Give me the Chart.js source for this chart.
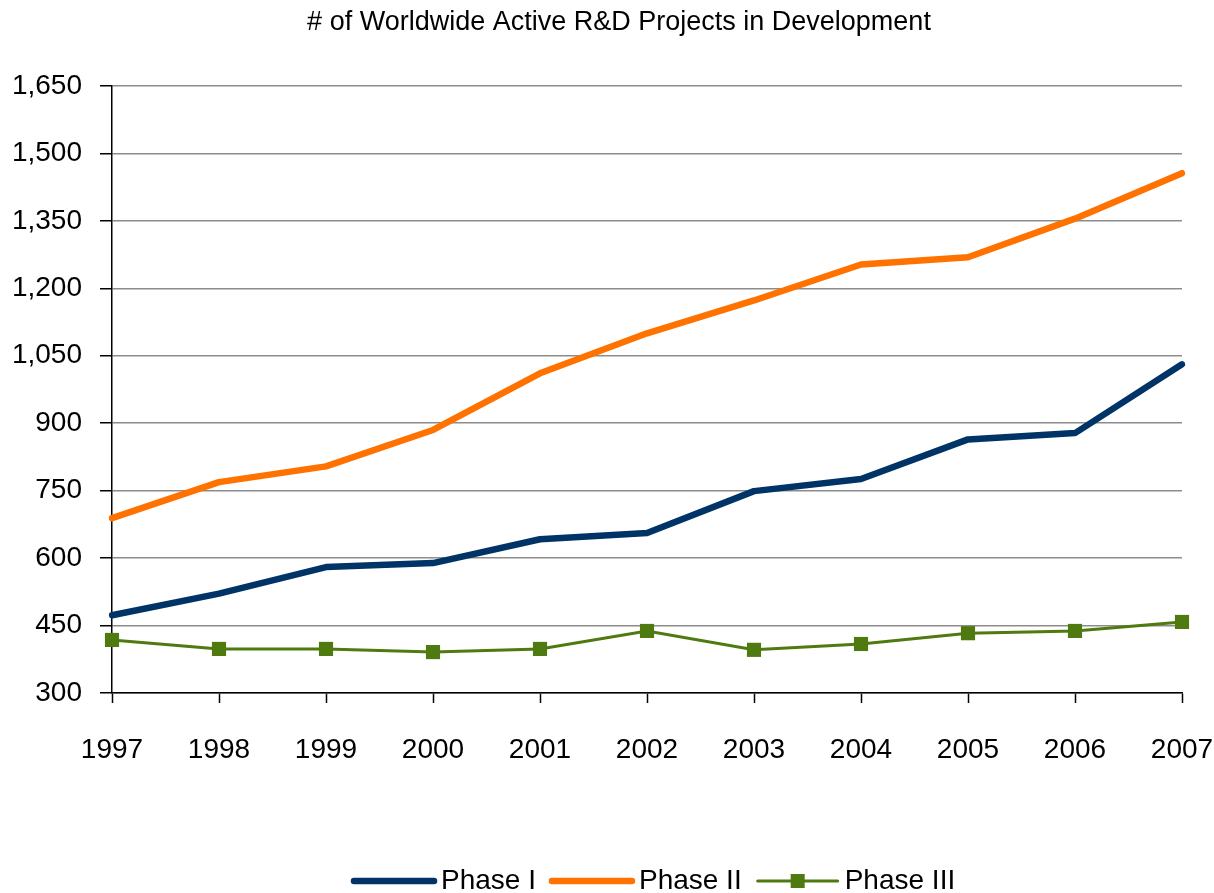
<!DOCTYPE html>
<html>
<head>
<meta charset="utf-8">
<script src="https://cdn.jsdelivr.net/npm/chart.js@4/dist/chart.umd.min.js"></script>
<style>
  html, body { margin: 0; padding: 0; background: #fff; }
  #wrap { width: 1214px; height: 893px; }
</style>
</head>
<body>
<div id="wrap"><canvas id="projects"></canvas></div>
<script>
const FONT = '"Liberation Sans", Arial, sans-serif';

const years = ["1997", "1998", "1999", "2000", "2001", "2002", "2003", "2004", "2005", "2006", "2007"];
const phase1 = [473, 521, 580, 589, 642, 656, 749, 776, 864, 878, 1031];
const phase2 = [689, 769, 804, 885, 1011, 1100, 1173, 1253, 1269, 1355, 1456];
const phase3 = [418, 398, 398, 391, 398, 438, 396, 409, 433, 438, 458];
const yTicks = [300, 450, 600, 750, 900, 1050, 1200, 1350, 1500, 1650];
const TITLE = "# of Worldwide Active R&D Projects in Development";

const COLORS = {
  navy: "rgb(0, 51, 102)",
  orange: "rgb(255, 114, 0)",
  green: "rgb(79, 122, 16)",
};

// title and bottom legend drawn by hand (legend lines carry the Phase III marker)
const decorations = {
  id: "decorations",
  afterDraw(chart) {
    const ctx = chart.ctx;
    ctx.save();
    ctx.fillStyle = "#000";
    ctx.font = "27px " + FONT;
    ctx.textAlign = "center";
    ctx.textBaseline = "middle";
    ctx.fillText(TITLE, 619, 23);

    const sets = chart.data.datasets;
    const lineLen = 80, gapText = 7, gapItem = 16;
    ctx.font = "28px " + FONT;
    ctx.textAlign = "left";
    let x = 354;
    const y = 881;
    sets.forEach((ds) => {
      ctx.strokeStyle = ds.borderColor;
      ctx.lineWidth = ds.borderWidth;
      ctx.lineCap = "round";
      ctx.beginPath();
      ctx.moveTo(x, y);
      ctx.lineTo(x + lineLen, y);
      ctx.stroke();
      if (ds.pointRadius > 0) {
        ctx.fillStyle = ds.pointBackgroundColor;
        ctx.fillRect(x + lineLen / 2 - 7, y - 7, 14, 14);
      }
      x += lineLen + gapText;
      ctx.fillStyle = "#000";
      ctx.fillText(ds.label, x, y);
      x += ctx.measureText(ds.label).width + gapItem;
    });
    ctx.restore();
  },
};

const projectsData = {
  labels: years,
  datasets: [
    {
      label: "Phase I",
      data: phase1,
      borderColor: COLORS.navy,
      backgroundColor: COLORS.navy,
      borderWidth: 6.5,
      pointRadius: 0,
      borderJoinStyle: "round",
      borderCapStyle: "round",
    },
    {
      label: "Phase II",
      data: phase2,
      borderColor: COLORS.orange,
      backgroundColor: COLORS.orange,
      borderWidth: 6.5,
      pointRadius: 0,
      borderJoinStyle: "round",
      borderCapStyle: "round",
    },
    {
      label: "Phase III",
      data: phase3,
      borderColor: COLORS.green,
      backgroundColor: COLORS.green,
      pointBackgroundColor: COLORS.green,
      pointBorderColor: COLORS.green,
      borderWidth: 3,
      pointStyle: "rect",
      pointRadius: 10,
      pointBorderWidth: 0,
    },
  ],
};

const projectsConfig = {
  type: "line",
  data: projectsData,
  plugins: [decorations],
  options: {
    responsive: true,
    maintainAspectRatio: false,
    animation: false,
    layout: { padding: { left: 0, right: 32, top: 86, bottom: 0 } },
    plugins: {
      legend: { display: false },
      tooltip: { enabled: false },
      title: { display: false },
    },
    scales: {
      x: {
        offset: false,
        afterFit(scale) {
          scale.height = 200;
          scale.paddingLeft = 0;
          scale.paddingRight = 0;
        },
        grid: {
          drawOnChartArea: false,
          tickLength: 10,
          tickColor: "#000",
          tickWidth: 1.5,
        },
        border: { color: "#000", width: 1.5 },
        ticks: {
          color: "#000",
          padding: 30,
          maxRotation: 0,
          font: { family: FONT, size: 28 },
        },
      },
      y: {
        min: yTicks[0],
        max: yTicks[yTicks.length - 1],
        afterFit(scale) {
          scale.width = 112;
          scale.paddingTop = 0;
          scale.paddingBottom = 0;
        },
        afterBuildTicks(scale) {
          scale.ticks = yTicks.map((v) => ({ value: v }));
        },
        grid: {
          color: "#8c8c8c",
          lineWidth: 1.5,
          tickLength: 12,
          tickColor: "#000",
          tickWidth: 1.5,
        },
        border: { color: "#000", width: 1.5 },
        ticks: {
          color: "#000",
          padding: 18,
          font: { family: FONT, size: 28 },
          callback: (v) => v.toLocaleString("en-US"),
        },
      },
    },
  },
};

new Chart(document.getElementById("projects"), projectsConfig);
</script>
</body>
</html>
